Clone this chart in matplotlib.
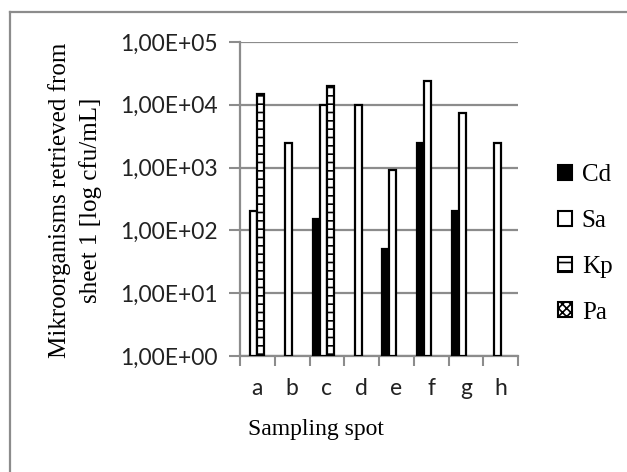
import matplotlib
matplotlib.use("Agg")
import matplotlib.pyplot as plt
import numpy as np
from matplotlib.patches import Patch
from matplotlib.lines import Line2D

categories = ["a", "b", "c", "d", "e", "f", "g", "h"]
series_names = ["Cd", "Sa", "Kp", "Pa"]
cd = [None, None, 150, None, 50, 2500, 200, None]
sa = [200, 2500, 10000, 10000, 900, 24000, 7500, 2500]
kp = [15000, None, 20000, None, None, None, None, None]
pa = [None, None, None, None, None, None, None, None]
ytick_vals = [1, 10, 100, 1000, 10000, 100000]
ytick_labels = ["1,00E+00", "1,00E+01", "1,00E+02", "1,00E+03", "1,00E+04", "1,00E+05"]

styles = [
    dict(facecolor="black", hatch=None),
    dict(facecolor="white", hatch=None),
    dict(facecolor="white", hatch="--"),
    dict(facecolor="white", hatch="xxxx"),
]

plt.rcParams["hatch.linewidth"] = 1.2
fig = plt.figure(figsize=(6.27, 4.72), dpi=100)
ax = fig.add_axes([240/627, 1-356/472, (518-240)/627, (356-42)/472])

width = 0.2
data = [cd, sa, kp, pa]
for si, (vals, st) in enumerate(zip(data, styles)):
    xs, hs = [], []
    for i, v in enumerate(vals):
        if v is not None:
            xs.append(i + (si - 1.5) * width)
            hs.append(v - 1)
    if xs:
        ax.bar(xs, hs, width=width, bottom=1, facecolor=st["facecolor"],
               edgecolor="black", linewidth=1.6, hatch=st["hatch"], zorder=3)

ax.set_yscale("log")
ax.set_ylim(1, 100000)
ax.set_xlim(-0.5, len(categories) - 0.5)
ax.set_yticks(ytick_vals)
ax.set_yticklabels(ytick_labels)
ax.yaxis.set_minor_locator(matplotlib.ticker.NullLocator())
ax.set_xticks(np.arange(len(categories)))
ax.set_xticklabels(categories)
ax.set_xticks(np.arange(len(categories) + 1) - 0.5, minor=True)
ax.tick_params(axis="both", which="major", labelsize=16.5, labelfontfamily="Lato", labelcolor="#222222")
ax.tick_params(axis="x", which="major", length=0, pad=16)
ax.tick_params(axis="x", which="minor", length=7, width=1.5, color="#8c8c8c")
ax.tick_params(axis="y", length=8, width=1.5, color="#8c8c8c", pad=8)
ax.grid(axis="y", color="#8c8c8c", linewidth=1.6, zorder=0)
for s in ["top", "right"]:
    ax.spines[s].set_visible(False)
for s in ["left", "bottom"]:
    ax.spines[s].set_color("#8c8c8c")
    ax.spines[s].set_linewidth(1.6)

fig.text(316/627, 1-430/472, "Sampling spot", ha="center", va="center",
         fontfamily="Liberation Serif", fontsize=17)
fig.text(75/627, 1-200/472, "Mikroorganisms retrieved from\nsheet 1 [log cfu/mL]",
         rotation=90, ha="center", va="center", fontfamily="Liberation Serif",
         fontsize=18, linespacing=1.5, multialignment="center")

handles = [Patch(facecolor=st["facecolor"], edgecolor="black", hatch=st["hatch"], linewidth=1.5)
           for st in styles]
fig.legend(handles, series_names, loc="center left", bbox_to_anchor=(558/627, 1-244/472),
           frameon=False, prop={"family": "Liberation Serif", "size": 18},
           handlelength=0.55, handleheight=0.55, handletextpad=0.4, labelspacing=0.95,
           borderpad=0, borderaxespad=0)

fig.add_artist(Line2D([10/627, 1.01], [1-12/472, 1-12/472], color="#8c8c8c", linewidth=1.6,
                      transform=fig.transFigure))
fig.add_artist(Line2D([10/627, 10/627], [1-12/472, -0.01], color="#8c8c8c", linewidth=1.6,
                      transform=fig.transFigure))

fig.savefig("out.png", dpi=100)
